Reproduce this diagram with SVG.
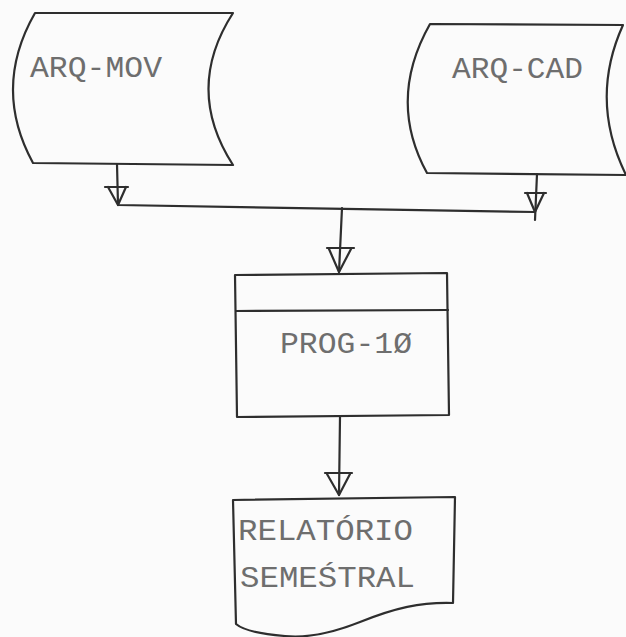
<svg xmlns="http://www.w3.org/2000/svg" width="626" height="637" viewBox="0 0 626 637">
<defs>
<style>
.shape{fill:none;stroke:#2e2e2e;stroke-width:2.2;stroke-linejoin:round;stroke-linecap:round}
.line{fill:none;stroke:#2e2e2e;stroke-width:2.2;stroke-linecap:round;stroke-linejoin:round}
.lbl{font-family:"Liberation Mono","DejaVu Sans Mono",monospace;font-size:29px;fill:#6e6e6e}
</style>
</defs>
<rect x="0" y="0" width="626" height="637" fill="#fbfbfb"/>
<g id="arq-mov">
<path class="shape" d="M35,13 L233,13 Q184,89 233,165 L33,163 Q-8,88 35,13 Z"/>
<text class="lbl" x="30" y="77" textLength="132" lengthAdjust="spacingAndGlyphs">ARQ-MOV</text>
</g>
<g id="arq-cad">
<path class="shape" d="M430,24 L623,25 Q589,100 626,175 L427,173 Q387,100 430,24 Z"/>
<text class="lbl" x="452" y="78" textLength="131" lengthAdjust="spacingAndGlyphs">ARQ-CAD</text>
</g>
<g id="prog-10">
<path class="shape" d="M235,275 L447,273 L449,415 L237,417 Z"/>
<line class="shape" x1="236" y1="311" x2="448" y2="310"/>
<text class="lbl" x="280" y="353" textLength="132" lengthAdjust="spacingAndGlyphs">PROG-1Ø</text>
</g>
<g id="relatorio">
<path class="shape" d="M233,500 L455,497 L453,603 C420,602 395,608 360,622 C330,634 305,638 285,636 C260,634 243,630 236,624 Z"/>
<text class="lbl" x="238" y="540" textLength="175" lengthAdjust="spacingAndGlyphs">RELATÓRIO</text>
<text class="lbl" x="240" y="587" textLength="175" lengthAdjust="spacingAndGlyphs">SEMEŚTRAL</text>
</g>
<g id="connectors">
<path class="line" d="M117,164 L118,205 L535,212"/>
<path class="line" d="M105,187 L128,187 M108,187 L118,205 L126,187"/>
<path class="line" d="M342,208 L339,272"/>
<path class="line" d="M327,248 L354,248 M329,249 L339,272 L351,249"/>
<path class="line" d="M537,174 L535,220"/>
<path class="line" d="M525,193 L546,193 M527,193 L535,212 L544,193"/>
<path class="line" d="M340,417 L339,495"/>
<path class="line" d="M325,473 L352,473 M327,474 L339,495 L350,474"/>
</g>
</svg>
